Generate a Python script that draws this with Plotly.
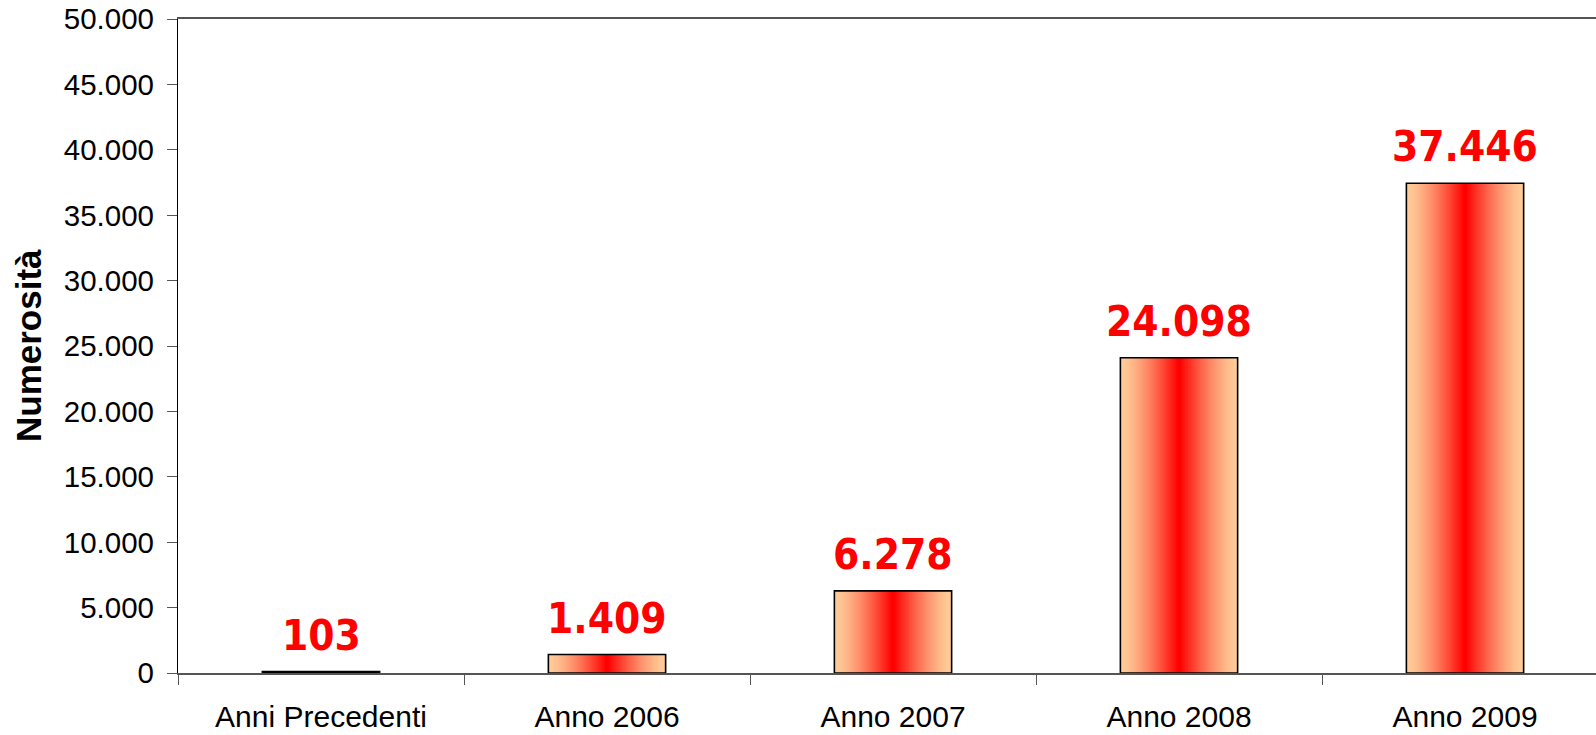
import plotly.graph_objects as go

categories = ["Anni Precedenti", "Anno 2006", "Anno 2007", "Anno 2008", "Anno 2009"]
values = [103, 1409, 6278, 24098, 37446]
y_ticks = list(range(0, 50001, 5000))
y_title = "Numerosità"

BAR_W = 0.41
N_LAYERS = 40
EDGE = (255, 204, 153)
CENTER = (255, 0, 0)


def fmt(v):
    return f"{v:,}".replace(",", ".")


fig = go.Figure()

# gradient: stacked overlay layers, from wide (peach) to narrow (red)
for k in range(N_LAYERS):
    t = (k / (N_LAYERS - 1)) ** 1.4
    col = tuple(round(EDGE[i] + (CENTER[i] - EDGE[i]) * t) for i in range(3))
    w = BAR_W * (1 - k / N_LAYERS)
    fig.add_trace(go.Bar(
        x=categories, y=values, width=[w] * len(values),
        marker=dict(color=f"rgb{col}", line=dict(width=0)),
        showlegend=False, hoverinfo="skip",
    ))

# outline
fig.add_trace(go.Bar(
    x=categories, y=values, width=[BAR_W] * len(values),
    marker=dict(color="rgba(0,0,0,0)", line=dict(color="black", width=1.6)),
    showlegend=False, hoverinfo="skip",
))

for c, v in zip(categories, values):
    fig.add_annotation(
        x=c, y=v, text=f"<b>{fmt(v)}</b>", showarrow=False,
        xanchor="center", yanchor="bottom", yshift=10,
        font=dict(family="DejaVu Sans Condensed, DejaVu Sans, sans-serif", size=42, color="#ff0000"),
    )

fig.add_annotation(
    xref="paper", yref="paper", x=0, y=0.5, xshift=-150,
    text=f"<b>{y_title}</b>", textangle=-90, showarrow=False,
    xanchor="center", yanchor="middle",
    font=dict(family="Liberation Sans, Arial, sans-serif", size=35, color="black"),
)

fig.update_layout(
    width=1596, height=735,
    margin=dict(l=178, r=0, t=19, b=62, autoexpand=False),
    paper_bgcolor="white", plot_bgcolor="white",
    barmode="overlay", separators=",.",
    font=dict(family="Liberation Sans, Arial, sans-serif", color="black"),
    xaxis=dict(
        type="category", range=[-0.5, 4.458],
        showline=True, linecolor="#555555", linewidth=1.5, mirror=True,
        ticks="outside", tickson="boundaries", ticklen=10, tickcolor="#555555", tickwidth=1.2,
        tickfont=dict(size=30, color="black"), ticklabelstandoff=16,
        showgrid=False, zeroline=False, fixedrange=True,
    ),
    yaxis=dict(
        range=[0, 50000], tickvals=y_ticks, tickformat=",d",
        showline=True, linecolor="black", linewidth=1.2,
        ticks="outside", ticklen=10, tickcolor="#555555", tickwidth=1.2,
        tickfont=dict(size=29.5, color="black"), ticklabelstandoff=7,
        showgrid=False, zeroline=False, fixedrange=True,
    ),
)

fig.write_html(
    "out.html",
    config={"displayModeBar": False},
    post_script="document.body.style.margin='0';document.body.style.overflow='hidden';",
)
